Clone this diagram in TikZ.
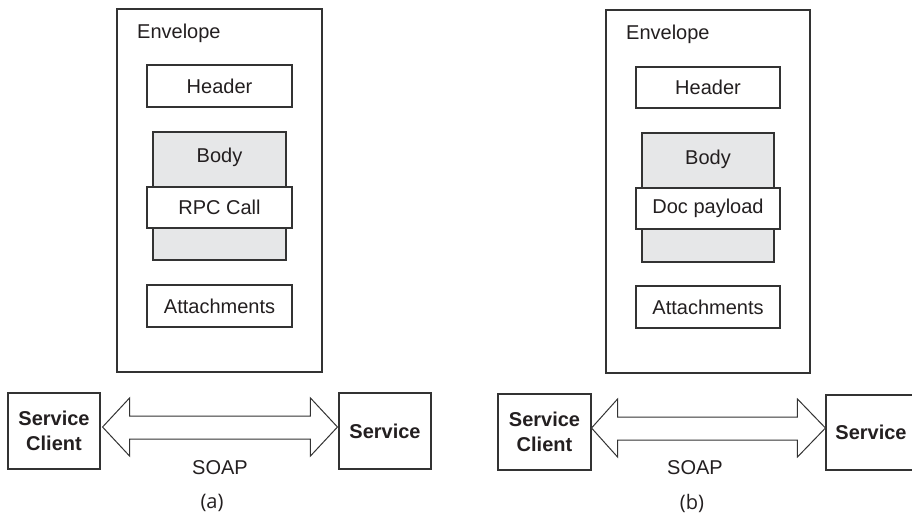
\documentclass[tikz,border=0pt]{standalone}
\usepackage{fontspec}
\setmainfont{Liberation Sans}
\newfontfamily\capfont{Open Sans}
\usetikzlibrary{calc}
\definecolor{ink}{HTML}{231F20}
\definecolor{edge}{HTML}{333333}
\definecolor{bodygrey}{HTML}{E6E7E8}
\tikzset{
  box/.style={draw=edge, line width=1.1pt, fill=white, inner sep=0pt, text=ink, font=\fontsize{20}{24}\selectfont},
  graybox/.style={box, fill=bodygrey},
  txt/.style={inner sep=0pt, text=ink, font=\fontsize{20}{24}\selectfont},
  boldbox/.style={box, font=\fontsize{20}{25}\selectfont\bfseries, align=center},
  dblarrow/.style={draw=edge, line width=1pt, fill=white, line join=miter},
  caption/.style={inner sep=0pt, text=ink, font=\capfont\fontsize{20}{24}\selectfont}
}
\begin{document}
\begin{tikzpicture}[x=1pt,y=-1pt]
\useasboundingbox (0,0) rectangle (912,512);
% ---------- panel (a) ----------
\node[box, minimum width=205pt, minimum height=363pt] (envA) at (219.5,190.5) {};
\node[txt, anchor=west] (envAl) at (137,33) {Envelope};
\node[box, minimum width=145pt, minimum height=42pt] (hdrA) at (219.5,86) {Header};
\node[graybox, minimum width=133pt, minimum height=128pt] (bodyA) at (219.5,196) {};
\node[txt] (bodyAl) at (219.5,157) {Body};
\node[box, minimum width=145pt, minimum height=41pt] (rpcA) at (219.5,207.5) {RPC Call};
\node[box, minimum width=145pt, minimum height=42pt] (attA) at (219.5,306) {Attachments};
\node[boldbox, minimum width=92pt, minimum height=76pt] (sclA) at (54,431) {Service\\Client};
\node[boldbox, minimum width=92pt, minimum height=76pt] (srvA) at (385,431) {Service};
\coordinate (tlA) at ($(sclA.east)+(2,-4)$);
\coordinate (trA) at ($(srvA.west)+(-1,-4)$);
\draw[dblarrow] (tlA) -- ++(27,-29) -- ++(0,18) -- ($(trA)+(-27,-11)$) -- ++(0,-18) -- (trA)
  -- ++(-27,29) -- ++(0,-17) -- ($(tlA)+(27,12)$) -- ++(0,17) -- cycle;
\node[txt] (soapA) at (220,468) {SOAP};
\node[caption] (capA) at (212,503) {(a)};
% ---------- panel (b) ----------
\node[box, minimum width=204pt, minimum height=363pt] (envB) at (708,191.5) {};
\node[txt, anchor=west] (envBl) at (626,34) {Envelope};
\node[box, minimum width=144pt, minimum height=41pt] (hdrB) at (708,87.5) {Header};
\node[graybox, minimum width=132pt, minimum height=129pt] (bodyB) at (708,197.5) {};
\node[txt] (bodyBl) at (708,159) {Body};
\node[box, minimum width=144pt, minimum height=41pt] (docB) at (708,208.5) {Doc payload};
\node[box, minimum width=144pt, minimum height=42pt] (attB) at (708,307) {Attachments};
\node[boldbox, minimum width=93pt, minimum height=76pt] (sclB) at (544.5,432) {Service\\Client};
\node[box, minimum width=94pt, minimum height=75pt] (srvB) at (873,432.5) {};
\node[txt, font=\fontsize{20}{24}\selectfont\bfseries] (srvBl) at (871,432) {Service};
\coordinate (tlB) at ($(sclB.east)+(0,-4)$);
\coordinate (trB) at ($(srvB.west)+(0,-4.5)$);
\draw[dblarrow] (tlB) -- ++(26,-29) -- ++(0,18) -- ($(trB)+(-28,-11)$) -- ++(0,-18) -- (trB)
  -- ++(-28,29) -- ++(0,-17) -- ($(tlB)+(26,12)$) -- ++(0,17) -- cycle;
\node[txt] (soapB) at (695,468) {SOAP};
\node[caption] (capB) at (692,503) {(b)};
\end{tikzpicture}
\end{document}
